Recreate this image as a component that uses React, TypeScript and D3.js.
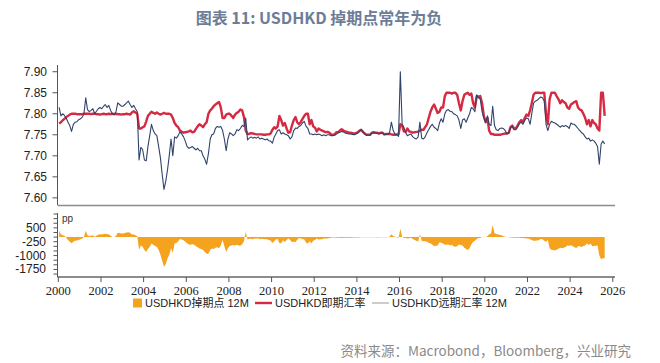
import React from 'react';
import * as d3 from 'd3';

// monthly values, Jan 2000 .. Aug 2025
const START_YEAR = 2000;

// USDHKD spot
const spot = [
  7.777, 7.780, 7.784, 7.788, 7.792, 7.795, 7.798, 7.800, 7.800, 7.800, 7.799, 7.799,
  7.799, 7.799, 7.800, 7.800, 7.800, 7.800, 7.799, 7.800, 7.800, 7.799, 7.799, 7.798,
  7.799, 7.800, 7.799, 7.799, 7.800, 7.799, 7.800, 7.799, 7.800, 7.799, 7.799, 7.798,
  7.799, 7.799, 7.800, 7.799, 7.798, 7.803, 7.806, 7.803, 7.800, 7.765, 7.765, 7.768,
  7.770, 7.782, 7.795, 7.800, 7.805, 7.802, 7.800, 7.803, 7.800, 7.798, 7.800, 7.802,
  7.800, 7.800, 7.800, 7.798, 7.790, 7.778, 7.772, 7.768, 7.760, 7.757, 7.755, 7.756,
  7.757, 7.758, 7.760, 7.756, 7.757, 7.764, 7.770, 7.775, 7.772, 7.768, 7.775, 7.780,
  7.800, 7.808, 7.812, 7.818, 7.822, 7.825, 7.828, 7.815, 7.790, 7.790, 7.798, 7.800,
  7.800, 7.795, 7.790, 7.798, 7.802, 7.805, 7.810, 7.808, 7.792, 7.760, 7.752, 7.752,
  7.754, 7.753, 7.752, 7.751, 7.751, 7.751, 7.751, 7.750, 7.750, 7.751, 7.751, 7.753,
  7.762, 7.768, 7.765, 7.770, 7.795, 7.785, 7.772, 7.778, 7.765, 7.755, 7.756, 7.772,
  7.785, 7.792, 7.780, 7.775, 7.780, 7.788, 7.795, 7.800, 7.800, 7.775, 7.785, 7.770,
  7.767, 7.758, 7.765, 7.762, 7.760, 7.758, 7.756, 7.757, 7.755, 7.751, 7.750, 7.751,
  7.756, 7.757, 7.760, 7.763, 7.760, 7.758, 7.757, 7.755, 7.755, 7.754, 7.752, 7.754,
  7.756, 7.760, 7.762, 7.757, 7.753, 7.750, 7.750, 7.750, 7.755, 7.756, 7.755, 7.755,
  7.753, 7.755, 7.755, 7.751, 7.752, 7.752, 7.752, 7.751, 7.750, 7.750, 7.751, 7.751,
  7.775, 7.772, 7.758, 7.757, 7.765, 7.758, 7.757, 7.755, 7.756, 7.757, 7.757, 7.760,
  7.762, 7.762, 7.768, 7.775, 7.790, 7.805, 7.815, 7.822, 7.812, 7.802, 7.805, 7.815,
  7.815, 7.842, 7.850, 7.850, 7.850, 7.848, 7.850, 7.850, 7.845, 7.825, 7.808, 7.830,
  7.845, 7.848, 7.850, 7.845, 7.848, 7.825, 7.815, 7.842, 7.840, 7.842, 7.825, 7.795,
  7.780, 7.790, 7.760, 7.752, 7.752, 7.750, 7.750, 7.750, 7.750, 7.751, 7.752, 7.753,
  7.753, 7.755, 7.768, 7.772, 7.765, 7.765, 7.772, 7.780, 7.785, 7.780, 7.790, 7.798,
  7.795, 7.808, 7.825, 7.845, 7.850, 7.850, 7.850, 7.849, 7.850, 7.850, 7.800, 7.775,
  7.835, 7.850, 7.850, 7.850, 7.842, 7.835, 7.825, 7.832, 7.828, 7.825, 7.815, 7.812,
  7.822, 7.825, 7.828, 7.830, 7.815, 7.810, 7.808, 7.800, 7.790, 7.775, 7.785, 7.770,
  7.785, 7.778, 7.775, 7.765, 7.760, 7.850, 7.850, 7.795,
];

// USDHKD 12M forward
const forward = [
  7.815, 7.795, 7.800, 7.796, 7.790, 7.780, 7.772, 7.758, 7.775, 7.780, 7.781, 7.786,
  7.788, 7.792, 7.800, 7.838, 7.810, 7.805, 7.808, 7.812, 7.800, 7.806, 7.812, 7.815,
  7.812, 7.818, 7.822, 7.815, 7.820, 7.808, 7.800, 7.798, 7.805, 7.826, 7.822, 7.818,
  7.818, 7.822, 7.826, 7.830, 7.822, 7.815, 7.820, 7.812, 7.805, 7.690, 7.720, 7.715,
  7.690, 7.688, 7.722, 7.748, 7.775, 7.760, 7.752, 7.748, 7.722, 7.695, 7.655, 7.620,
  7.640, 7.668, 7.700, 7.740, 7.700, 7.745, 7.742, 7.748, 7.757, 7.752, 7.745, 7.735,
  7.722, 7.718, 7.720, 7.722, 7.718, 7.714, 7.718, 7.712, 7.712, 7.700, 7.692, 7.680,
  7.705, 7.740, 7.750, 7.752, 7.765, 7.770, 7.768, 7.770, 7.760, 7.740, 7.712, 7.740,
  7.755, 7.752, 7.748, 7.752, 7.762, 7.760, 7.765, 7.772, 7.770, 7.790, 7.738, 7.742,
  7.745, 7.742, 7.744, 7.742, 7.745, 7.740, 7.742, 7.740, 7.738, 7.740, 7.736, 7.735,
  7.730, 7.745, 7.752, 7.760, 7.762, 7.752, 7.755, 7.752, 7.750, 7.748, 7.740, 7.745,
  7.760, 7.766, 7.765, 7.770, 7.772, 7.778, 7.782, 7.770, 7.765, 7.752, 7.752, 7.750,
  7.752, 7.750, 7.752, 7.750, 7.748, 7.750, 7.748, 7.750, 7.750, 7.748, 7.748, 7.749,
  7.752, 7.754, 7.756, 7.758, 7.757, 7.754, 7.753, 7.752, 7.752, 7.751, 7.750, 7.752,
  7.754, 7.758, 7.762, 7.757, 7.752, 7.749, 7.749, 7.749, 7.754, 7.755, 7.754, 7.753,
  7.752, 7.754, 7.754, 7.750, 7.751, 7.751, 7.755, 7.780, 7.760, 7.752, 7.750, 7.746,
  7.900, 7.775, 7.768, 7.755, 7.748, 7.750, 7.752, 7.745, 7.742, 7.740, 7.745, 7.780,
  7.742, 7.740, 7.745, 7.755, 7.762, 7.770, 7.775, 7.768, 7.765, 7.760, 7.778, 7.788,
  7.780, 7.800, 7.808, 7.810, 7.806, 7.805, 7.800, 7.798, 7.795, 7.785, 7.765, 7.785,
  7.788, 7.780, 7.790, 7.800, 7.815, 7.812, 7.805, 7.845, 7.838, 7.835, 7.805, 7.790,
  7.780, 7.795, 7.775, 7.772, 7.818, 7.772, 7.762, 7.760, 7.765, 7.766, 7.765, 7.760,
  7.752, 7.754, 7.766, 7.770, 7.762, 7.762, 7.768, 7.776, 7.780, 7.775, 7.784, 7.790,
  7.788, 7.775, 7.800, 7.825, 7.830, 7.832, 7.836, 7.840, 7.838, 7.830, 7.775, 7.760,
  7.775, 7.782, 7.780, 7.778, 7.775, 7.772, 7.768, 7.772, 7.770, 7.772, 7.770, 7.765,
  7.778, 7.775, 7.775, 7.770, 7.765, 7.760, 7.755, 7.752, 7.745, 7.740, 7.742, 7.735,
  7.738, 7.735, 7.730, 7.722, 7.680, 7.728, 7.735, 7.728,
];

// USDHKD 12M swap points (pips)
const swapPoints = [
  350, 150, 100, 80, -30, -150, -250, -330, -250, -200, -180, -150,
  -120, -80, 0, 350, 100, 50, 80, 100, 20, 70, 130, 160,
  140, 170, 180, 150, 160, 80, 10, 0, 60, 230, 220, 200,
  190, 220, 250, 260, 230, 140, 140, 100, 50, -700, -450, -520,
  -700, -800, -650, -520, -350, -420, -480, -520, -700, -950, -1300, -1600,
  -1450, -1150, -950, -600, -850, -350, -320, -220, -100, -130, -170, -250,
  -330, -400, -420, -380, -420, -500, -550, -620, -640, -700, -800, -900,
  -900, -700, -620, -650, -580, -550, -600, -450, -150, -500, -800, -600,
  -480, -460, -430, -460, -420, -450, -470, -380, -220, 280, -130, -90,
  -90, -110, -80, -90, -60, -110, -90, -100, -120, -110, -150, -180,
  -320, -230, -130, -100, -330, -330, -170, -260, -150, -70, -160, -270,
  -250, -260, -150, -50, -80, -100, -130, -300, -350, -230, -330, -200,
  -150, -80, -130, -120, -120, -80, -80, -70, -50, -30, -20, -20,
  -40, -30, -40, -50, -30, -40, -40, -30, -30, -30, -20, -20,
  -20, -20, -10, -10, -10, -10, -10, -10, -10, -10, -10, -20,
  -10, -10, -10, -10, -10, -10, 30, 150, 60, 20, -10, -50,
  450, 20, -50, -50, -80, -60, -40, -100, -150, -200, -250, 150,
  -200, -230, -230, -250, -300, -350, -400, -500, -470, -450, -280, -300,
  -350, -420, -420, -400, -440, -430, -500, -520, -500, -400, -430, -450,
  -570, -650, -700, -600, -400, -250, -200, -100, -50, -50, 0, 20,
  0, 50, 150, 200, 650, 220, 150, 150, 120, 100, 40, 20,
  0, -10, -20, -20, -30, -30, -40, -40, -50, -50, -60, -80,
  -80, -120, -150, -200, -200, -180, -150, -100, -120, -200, -250, -150,
  -600, -680, -700, -720, -680, -630, -570, -600, -580, -530, -450, -470,
  -440, -500, -530, -600, -500, -500, -530, -480, -450, -350, -430, -350,
  -500, -480, -470, -450, -1000, -1200, -1150, -1150,
];

const yearTicks = [2000, 2002, 2004, 2006, 2008, 2010, 2012, 2014, 2016, 2018, 2020, 2022, 2024, 2026];
const rateTicks = [7.6, 7.65, 7.7, 7.75, 7.8, 7.85, 7.9];
const pointLabels = [500, -250, -1000, -1750];
const pointMinor = [1250, 1000, 750, 500, 250, 0, -250, -500, -750, -1000, -1250, -1500, -1750, -2000];

const months = spot.map((_, i) => new Date(START_YEAR, i, 15));

const SANS = '"Liberation Sans", "Noto Sans CJK SC", sans-serif';
const SERIF = '"Liberation Serif", "DejaVu Serif", serif';
const CJK = '"Noto Sans CJK SC", "Noto Sans", sans-serif';

export default function App() {
  const x = d3.scaleTime()
    .domain([new Date(2000, 0, 1), new Date(2026, 0, 1)])
    .range([58.3, 612.8]);
  const yTop = d3.scaleLinear().domain([7.583, 7.916]).range([205, 65]);
  const yBot = d3.scaleLinear().domain([-2160, 1300]).range([277, 213.1]);

  const line = d3.line<number>()
    .x((_, i) => x(months[i]))
    .y(d => yTop(d));

  const area = d3.area<number>()
    .x((_, i) => x(months[i]))
    .y0(yBot(0))
    .y1(d => yBot(d));

  const axisLeft = 57.5;
  const axisRight = 615;

  return (
    <svg width={660} height={363} style={{ position: 'absolute', left: 0, top: 0, background: '#fff' }}>
      <text x={319} y={24} textAnchor="middle" fontFamily={CJK} fontSize={16} fontWeight={700} fill="#6d7d98">
        图表 11: USDHKD 掉期点常年为负
      </text>

      {/* upper panel: rates */}
      <line x1={axisLeft} x2={axisLeft} y1={65} y2={205} stroke="#555" strokeWidth={1} />
      <line x1={axisLeft} x2={axisRight} y1={205.5} y2={205.5} stroke="#8c8c8c" strokeWidth={1.6} />
      {rateTicks.map(t => (
        <g key={t}>
          <line x1={axisLeft - 5} x2={axisLeft} y1={yTop(t)} y2={yTop(t)} stroke="#555" />
          <text x={47} y={yTop(t) + 4} textAnchor="end" fontFamily={SANS} fontSize={12} fill="#222">
            {t.toFixed(2)}
          </text>
        </g>
      ))}
      <path d={line(spot) || ''} fill="none" stroke="#d42a42" strokeWidth={2.4} strokeLinejoin="round" />
      <path d={line(forward) || ''} fill="none" stroke="#30436a" strokeWidth={1.1} strokeLinejoin="round" />

      {/* lower panel: swap points */}
      <path d={area(swapPoints) || ''} fill="#f5a31f" />
      <line x1={axisLeft} x2={axisLeft} y1={213} y2={277} stroke="#555" strokeWidth={1} />
      {pointMinor.map(t => (
        <line key={t} x1={axisLeft - 4} x2={axisLeft} y1={yBot(t)} y2={yBot(t)} stroke="#555" />
      ))}
      {pointLabels.map(t => (
        <text key={t} x={46} y={yBot(t) + 4} textAnchor="end" fontFamily={SANS} fontSize={12} fill="#222">
          {t}
        </text>
      ))}
      <text x={62} y={222} fontFamily={SANS} fontSize={10} fill="#333">pp</text>
      <line x1={axisLeft} x2={axisRight} y1={277} y2={277} stroke="#666" strokeWidth={1.4} />
      {yearTicks.map(yr => (
        <g key={yr}>
          <line x1={x(new Date(yr, 0, 1))} x2={x(new Date(yr, 0, 1))} y1={277} y2={282} stroke="#555" />
          <text x={x(new Date(yr, 0, 1))} y={295} textAnchor="middle" fontFamily={SERIF} fontSize={12.5} fill="#222">
            {yr}
          </text>
        </g>
      ))}

      {/* legend */}
      <rect x={133} y={298.5} width={9} height={9} fill="#f5a31f" />
      <text x={145} y={307} fontFamily={SANS} fontSize={11} fill="#222">USDHKD掉期点 12M</text>
      <line x1={255} x2={272} y1={303} y2={303} stroke="#d42a42" strokeWidth={2.4} />
      <text x={275} y={307} fontFamily={SANS} fontSize={11} fill="#222">USDHKD即期汇率</text>
      <line x1={372} x2={389} y1={303} y2={303} stroke="#9a9a9a" strokeWidth={1} />
      <text x={392} y={307} fontFamily={SANS} fontSize={11} fill="#222">USDHKD远期汇率 12M</text>

      <text x={631} y={356} textAnchor="end" fontFamily={CJK} fontSize={13.5} fill="#8a8a8a">
        资料来源：Macrobond，Bloomberg，兴业研究
      </text>
    </svg>
  );
}
